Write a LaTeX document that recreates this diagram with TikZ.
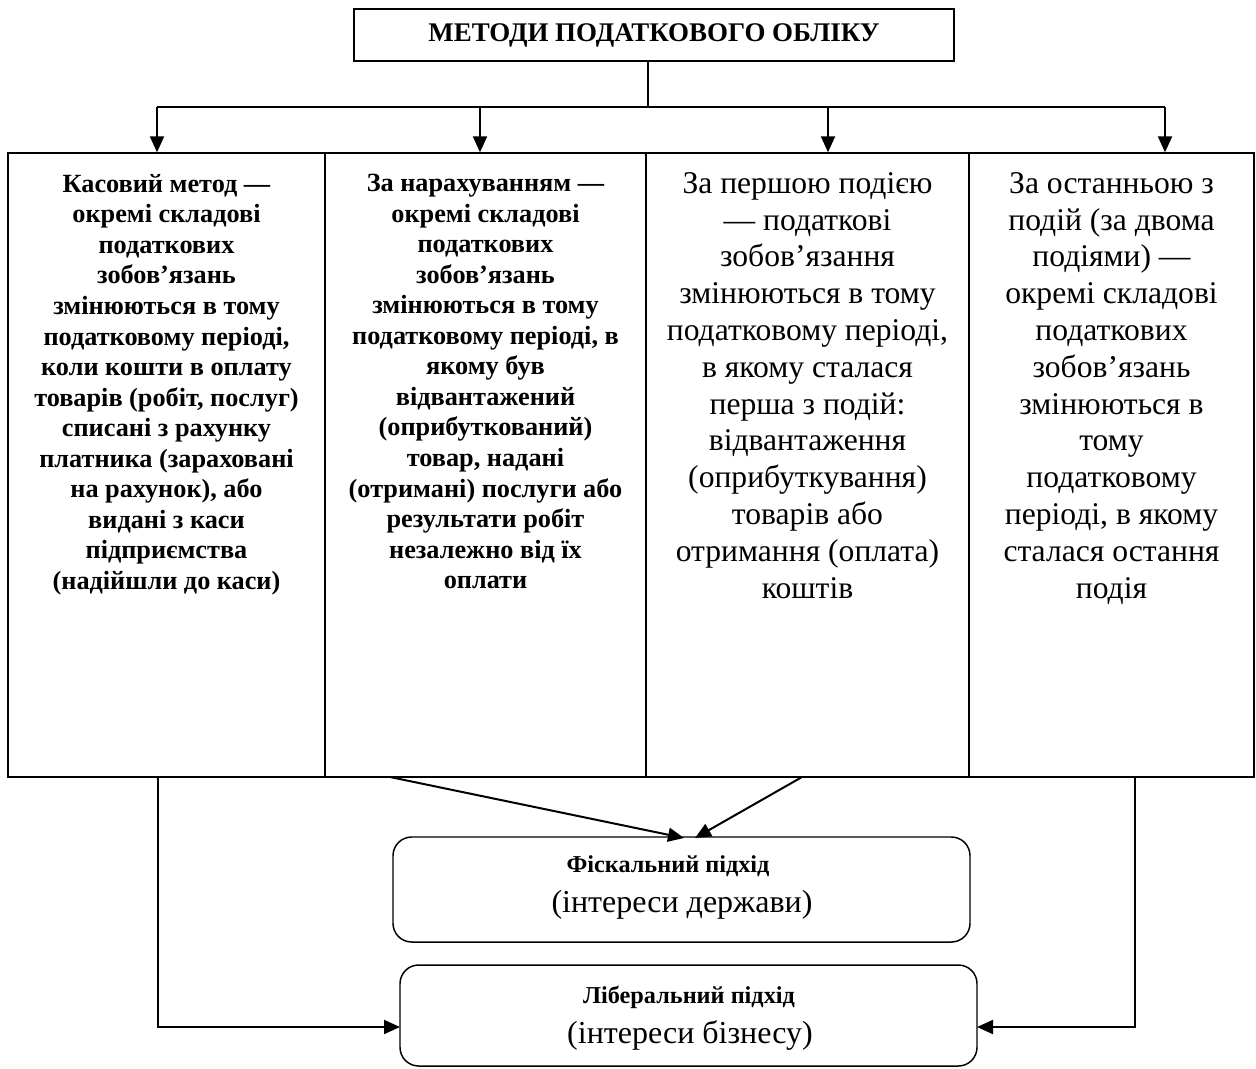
\documentclass[tikz,border=0pt]{standalone}
\usepackage{fontspec}
\setmainfont{Liberation Serif}
\usetikzlibrary{arrows.meta}
\begin{document}
\begin{tikzpicture}[x=0.75pt,y=-0.75pt,
  box/.style={draw,line width=1pt,inner sep=0pt},
  rbox/.style={draw,line width=1.1pt,rounded corners=14pt,inner sep=0pt},
  conn/.style={line width=1.5pt},
  arr/.style={line width=1.5pt,-{Triangle[length=12pt,width=10.5pt]}},
  boldtxt/.style={align=center,inner sep=0pt,font=\bfseries\fontsize{19.7}{22.9}\selectfont},
  regtxt/.style={align=center,inner sep=0pt,font=\fontsize{23.7}{27.6}\selectfont}]
\useasboundingbox (0,0) rectangle (1256,1068);
% title
\node[box,minimum width=450pt,minimum height=39pt,font=\bfseries\fontsize{20.2}{23}\selectfont] (top) at (654,35) {МЕТОДИ ПОДАТКОВОГО ОБЛІКУ};
% columns
\node[box,minimum width=237.75pt,minimum height=468pt] (c1) at (166.5,465) {};
\node[box,minimum width=240.75pt,minimum height=468pt] (c2) at (485.5,465) {};
\node[box,minimum width=242.25pt,minimum height=468pt] (c3) at (807.5,465) {};
\node[box,minimum width=213.75pt,minimum height=468pt] (c4) at (1111.5,465) {};
% column texts
\node[boldtxt,anchor=north] (t1) at (166.5,174) {Касовий метод —\\окремі складові\\податкових\\зобов’язань\\змінюються в тому\\податковому періоді,\\коли кошти в оплату\\товарів (робіт, послуг)\\списані з рахунку\\платника (зараховані\\на рахунок), або\\видані з каси\\підприємства\\(надійшли до каси)};
\node[boldtxt,anchor=north] (t2) at (485.5,174) {За нарахуванням —\\окремі складові\\податкових\\зобов’язань\\змінюються в тому\\податковому періоді, в\\якому був\\відвантажений\\(оприбуткований)\\товар, надані\\(отримані) послуги або\\результати робіт\\незалежно від їх\\оплати};
\node[regtxt,anchor=north] (t3) at (807.5,172) {За першою подією\\— податкові\\зобов’язання\\змінюються в тому\\податковому періоді,\\в якому сталася\\перша з подій:\\відвантаження\\(оприбуткування)\\товарів або\\отримання (оплата)\\коштів};
\node[regtxt,anchor=north] (t4) at (1111.5,172) {За останньою з\\подій (за двома\\подіями) —\\окремі складові\\податкових\\зобов’язань\\змінюються в\\тому\\податковому\\періоді, в якому\\сталася остання\\подія};
% bus
\coordinate (j) at (648,107);
\coordinate (b1) at (157,107);
\coordinate (b2) at (480,107);
\coordinate (b3) at (828,107);
\coordinate (b4) at (1165,107);
\draw[conn] (top.south -| j) -- (j);
\draw[conn] (b1) -- (b4);
\draw[arr] (b1) -- (b1 |- c1.north);
\draw[arr] (b2) -- (b2 |- c2.north);
\draw[arr] (b3) -- (b3 |- c3.north);
\draw[arr] (b4) -- (b4 |- c4.north);
% bottom boxes
\node[rbox,minimum width=432.75pt,minimum height=78.75pt] (fis) at (681.5,889.5) {};
\node[inner sep=0pt,font=\bfseries\fontsize{18.2}{20}\selectfont] (fis1) at (668,866) {Фіскальний підхід};
\node[inner sep=0pt,font=\fontsize{24}{27}\selectfont] (fis2) at (682,905) {(інтереси держави)};
\node[rbox,minimum width=432.75pt,minimum height=75.75pt] (lib) at (688.5,1015.5) {};
\node[inner sep=0pt,font=\bfseries\fontsize{18.2}{20}\selectfont] (lib1) at (689,997) {Ліберальний підхід};
\node[inner sep=0pt,font=\fontsize{24}{27}\selectfont] (lib2) at (690,1035) {(інтереси бізнесу)};
% bottom connectors
\coordinate (l0) at (158,777);
\coordinate (lin) at (400,1027);
\coordinate (d1) at (390,777);
\coordinate (f1) at (684,838);
\coordinate (d2) at (802,777);
\coordinate (f2) at (695,838);
\coordinate (r0) at (1135,777);
\coordinate (rin) at (977,1027);
\draw[arr] (l0) |- (lin);
\draw[arr] (d1) -- (f1);
\draw[arr] (d2) -- (f2);
\draw[arr] (r0) |- (rin);
\end{tikzpicture}
\end{document}
